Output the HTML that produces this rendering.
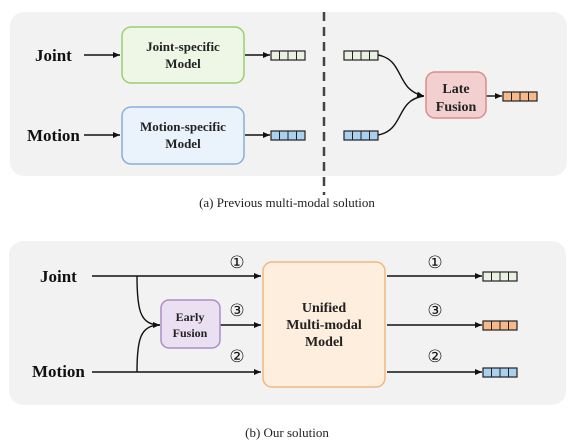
<!DOCTYPE html>
<html><head><meta charset="utf-8"><style>
html,body{margin:0;padding:0;background:#fff;width:573px;height:444px;overflow:hidden}
svg{display:block}
text{font-family:"Liberation Serif",serif;}
</style></head><body>
<svg width="573" height="444" viewBox="0 0 573 444" xmlns="http://www.w3.org/2000/svg">
<defs>
<marker id="a" markerWidth="8" markerHeight="8" refX="7" refY="4" orient="auto" markerUnits="userSpaceOnUse">
<path d="M0,1 L7,4 L0,7 Z" fill="#111"/></marker>
<g id="tk"><rect x="0" y="0" width="34" height="9" stroke="#222" stroke-width="1.2"/><line x1="8.5" y1="0" x2="8.5" y2="9" stroke="#222"/><line x1="17" y1="0" x2="17" y2="9" stroke="#222"/><line x1="25.5" y1="0" x2="25.5" y2="9" stroke="#222"/></g>
</defs>
<rect x="10" y="12" width="557" height="164" rx="14" fill="#f2f2f2"/>
<rect x="9" y="241" width="557" height="164" rx="14" fill="#f2f2f2"/>
<line x1="324" y1="12" x2="324" y2="195" stroke="#444" stroke-width="2.5" stroke-dasharray="9,6"/>
<g font-weight="bold" fill="#111">
<text x="35" y="61" font-size="17">Joint</text>
<text x="27" y="141" font-size="17">Motion</text>
<text x="40" y="282" font-size="17">Joint</text>
<text x="32" y="377" font-size="17">Motion</text>
</g>
<g stroke="#111" stroke-width="1.4" fill="none">
<line x1="84" y1="55" x2="120" y2="55" marker-end="url(#a)"/>
<line x1="84" y1="135" x2="120" y2="135" marker-end="url(#a)"/>
<line x1="245" y1="55" x2="270" y2="55" marker-end="url(#a)"/>
<line x1="245" y1="135" x2="270" y2="135" marker-end="url(#a)"/>
<path d="M378,55 C405,60 395,90 424,96" marker-end="url(#a)"/>
<path d="M378,135 C405,130 395,100 424,96"/>
<line x1="486" y1="96" x2="502" y2="96" marker-end="url(#a)"/>
<line x1="92" y1="276" x2="261" y2="276" marker-end="url(#a)"/>
<line x1="92" y1="372" x2="261" y2="372" marker-end="url(#a)"/>
<path d="M137,276 C137,310 140,325 160,325" marker-end="url(#a)"/>
<path d="M137,372 C137,340 140,325 160,325"/>
<line x1="220" y1="325" x2="261" y2="325" marker-end="url(#a)"/>
<line x1="387" y1="276" x2="482" y2="276" marker-end="url(#a)"/>
<line x1="387" y1="325" x2="482" y2="325" marker-end="url(#a)"/>
<line x1="387" y1="372" x2="482" y2="372" marker-end="url(#a)"/>
</g>
<rect x="122" y="27" width="122" height="56" rx="9" fill="#eef7e6" stroke="#98d072" stroke-width="1.5"/>
<rect x="122" y="107" width="122" height="57" rx="9" fill="#eaf2fb" stroke="#85afd8" stroke-width="1.5"/>
<rect x="426" y="72" width="60" height="46" rx="9" fill="#f3d0d0" stroke="#db8b8b" stroke-width="1.5"/>
<rect x="161" y="300" width="59" height="48" rx="8" fill="#ebe0f2" stroke="#ab8dc6" stroke-width="1.5"/>
<rect x="263" y="262" width="122" height="125" rx="9" fill="#fdeedd" stroke="#f1b782" stroke-width="1.5"/>
<g font-weight="bold" fill="#222" text-anchor="middle" font-size="13">
<text x="183" y="51">Joint-specific</text><text x="183" y="68">Model</text>
<text x="183" y="131">Motion-specific</text><text x="183" y="148">Model</text>
<text x="456" y="93" font-size="14">Late</text><text x="456" y="111" font-size="14">Fusion</text>
<text x="190" y="321" font-size="12">Early</text><text x="190" y="337" font-size="12">Fusion</text>
<text x="324" y="312" font-size="14">Unified</text><text x="324" y="329" font-size="14">Multi-modal</text><text x="324" y="346" font-size="14">Model</text>
</g>
<use href="#tk" x="271" y="51" fill="#e9f1e2"/>
<use href="#tk" x="271" y="131" fill="#a9d0ee"/>
<use href="#tk" x="344" y="51" fill="#e9f1e2"/>
<use href="#tk" x="344" y="131" fill="#a9d0ee"/>
<use href="#tk" x="503" y="92" fill="#f6b98a"/>
<use href="#tk" x="483" y="272" fill="#e9f1e2"/>
<use href="#tk" x="483" y="321" fill="#f6b98a"/>
<use href="#tk" x="483" y="368" fill="#a9d0ee"/>
<g font-size="17" text-anchor="middle" fill="#111" font-family="'DejaVu Sans',sans-serif">
<text x="237" y="268" style="font-family:'DejaVu Sans',sans-serif">①</text>
<text x="237" y="316" style="font-family:'DejaVu Sans',sans-serif">③</text>
<text x="237" y="362" style="font-family:'DejaVu Sans',sans-serif">②</text>
<text x="435" y="268" style="font-family:'DejaVu Sans',sans-serif">①</text>
<text x="435" y="316" style="font-family:'DejaVu Sans',sans-serif">③</text>
<text x="435" y="362" style="font-family:'DejaVu Sans',sans-serif">②</text>
</g>
<text x="287" y="207" font-size="13" text-anchor="middle" fill="#222">(a)  Previous multi-modal solution</text>
<text x="287" y="437" font-size="13" text-anchor="middle" fill="#222">(b)  Our solution</text>
</svg>
</body></html>
